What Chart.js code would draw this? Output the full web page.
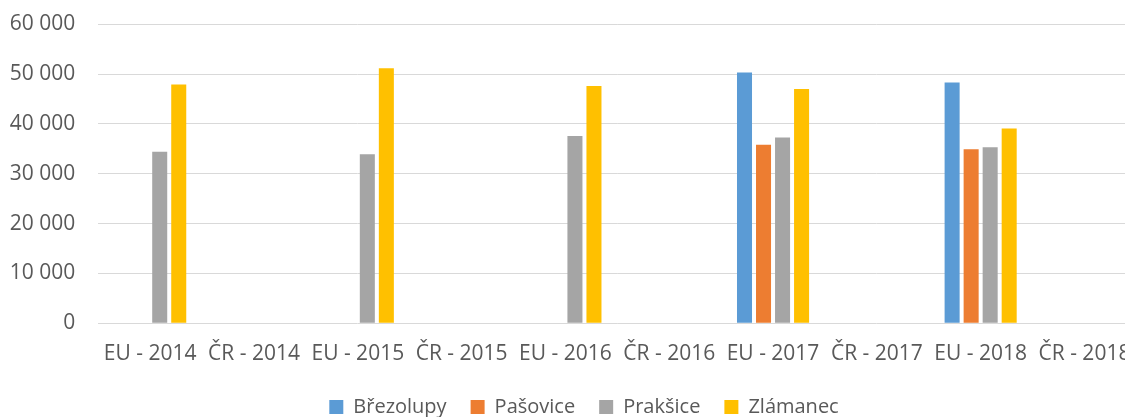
<!DOCTYPE html>
<html>
<head>
<meta charset="utf-8">
<script src="https://cdn.jsdelivr.net/npm/chart.js@4/dist/chart.umd.min.js"></script>
<style>
  html, body { margin: 0; padding: 0; background: #fff; overflow: hidden; }
  canvas { display: block; }
</style>
</head>
<body>
<canvas id="c" width="1149" height="417" style="width:1149px;height:417px"></canvas>
<script>
const categories = ["EU - 2014", "ČR - 2014", "EU - 2015", "ČR - 2015", "EU - 2016", "ČR - 2016", "EU - 2017", "ČR - 2017", "EU - 2018", "ČR - 2018"];
const seriesNames = ["Březolupy", "Pašovice", "Prakšice", "Zlámanec"];
const brezolupy = [null, null, null, null, null, null, 50300, null, 48300, null];
const pasovice  = [null, null, null, null, null, null, 35800, null, 34900, null];
const praksice  = [34400, null, 33900, null, 37600, null, 37300, null, 35300, null];
const zlamanec  = [47900, null, 51200, null, 47600, null, 47000, null, 39100, null];
const yTicks = [0, 10000, 20000, 30000, 40000, 50000, 60000];
const colors = ["#5B9BD5", "#ED7D31", "#A5A5A5", "#FFC000"];

const values = [brezolupy, pasovice, praksice, zlamanec];
const textColor = "#595959";
const font = { family: "'Open Sans', sans-serif", size: 21 };
const legendFont = { family: "'Open Sans', sans-serif", size: 20 };
const LEGEND_PAD = 24;

const shiftLegend = {
  id: 'shiftLegend',
  afterLayout(chart) {
    const lg = chart.legend;
    if (!lg) return;
    const dx = 584 - (lg.left + lg.right) / 2;
    const dy = 407 - (lg.top + LEGEND_PAD + 10);
    lg.left += dx; lg.right += dx;
    lg.top += dy; lg.bottom += dy;
  }
};

new Chart(document.getElementById('c'), {
  type: 'bar',
  data: {
    labels: categories,
    datasets: seriesNames.map((n, i) => ({
      label: n,
      data: values[i],
      backgroundColor: colors[i],
      borderWidth: 0,
      categoryPercentage: 0.733,
      barPercentage: 0.79
    }))
  },
  options: {
    responsive: false,
    animation: false,
    devicePixelRatio: 1,
    layout: { padding: { top: 24.3, right: 4, left: 0, bottom: -4.2 } },
    plugins: {
      legend: {
        position: 'bottom',
        labels: {
          boxWidth: 14, boxHeight: 14, padding: LEGEND_PAD,
          color: textColor, font: legendFont
        }
      },
      tooltip: { enabled: false }
    },
    scales: {
      x: {
        afterFit(scale) { scale.height = 44; },
        grid: { display: false, drawTicks: false },
        border: { display: false },
        ticks: { color: textColor, font: font, padding: 18.4, maxRotation: 0, autoSkip: false }
      },
      y: {
        min: 0, max: 60000,
        afterFit(scale) { scale.width = 98.3; scale.paddingTop = 0; scale.paddingBottom = 0; },
        afterBuildTicks(scale) { scale.ticks = yTicks.map(v => ({ value: v })); },
        grid: { color: '#D9D9D9', lineWidth: 1, drawTicks: false },
        border: { display: false },
        ticks: {
          color: textColor, font: font, padding: 23,
          callback: v => String(v).replace(/\B(?=(\d{3})+(?!\d))/g, ' ')
        }
      }
    }
  },
  plugins: [shiftLegend]
});
</script>
</body>
</html>
